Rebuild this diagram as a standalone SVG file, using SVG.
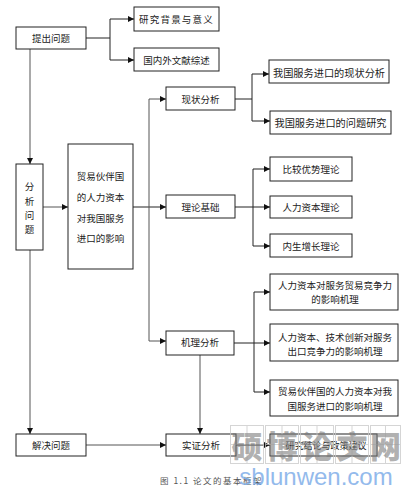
<svg xmlns="http://www.w3.org/2000/svg" width="419" height="497" viewBox="0 0 419 497">
<defs>
<marker id="arr" markerUnits="userSpaceOnUse" markerWidth="6" markerHeight="6" refX="6" refY="3" orient="auto">
<path d="M0,0 L6,3 L0,6 z" fill="#111"/>
</marker>
</defs>
<style>
.box{fill:#fff;stroke:#222;stroke-width:1}
.t{font-family:"Noto Sans CJK SC","Noto Sans",sans-serif;font-size:9.5px;fill:#222;text-anchor:middle;dominant-baseline:central}
.c{fill:none;stroke:#222;stroke-width:1}
.g{fill:none;stroke:#555;stroke-width:1}
.wm{font-family:"Noto Sans CJK SC",sans-serif;font-weight:900;font-size:31px;fill:#7a7a7a;fill-opacity:0.8;text-anchor:middle;dominant-baseline:central}
.grid{fill:none;stroke:#c8c8c8;stroke-width:1}
.cap{font-family:"Noto Sans CJK SC",sans-serif;font-size:8.5px;fill:#555;letter-spacing:1.5px}
</style>
<rect width="419" height="497" fill="#fff"/>

<g id="connectors">
<path class="c" d="M86,38 H110 V19 H134" marker-end="url(#arr)"/>
<path class="c" d="M110,38 V60 H134" marker-end="url(#arr)"/>
<path class="g" d="M30,49 V164" marker-end="url(#arr)"/>
<path class="g" d="M43,207 H68" marker-end="url(#arr)"/>
<path class="c" d="M133,207 H166" marker-end="url(#arr)"/>
<path class="g" d="M149,207 V99 H166" marker-end="url(#arr)"/>
<path class="g" d="M149,207 V341 H166" marker-end="url(#arr)"/>
<path class="c" d="M235,99 H252 V74 H269" marker-end="url(#arr)"/>
<path class="c" d="M252,99 V121 H270" marker-end="url(#arr)"/>
<path class="c" d="M235,207 H253 V169 H270" marker-end="url(#arr)"/>
<path class="c" d="M253,207 H270" marker-end="url(#arr)"/>
<path class="c" d="M253,207 V246 H270" marker-end="url(#arr)"/>
<path class="c" d="M234,343 H254 V292 H270" marker-end="url(#arr)"/>
<path class="c" d="M254,343 H270" marker-end="url(#arr)"/>
<path class="c" d="M254,343 V392 H270" marker-end="url(#arr)"/>
<path class="g" d="M30,250 V434" marker-end="url(#arr)"/>
<path class="g" d="M200,355 V434" marker-end="url(#arr)"/>
<path class="g" d="M86,445 H166" marker-end="url(#arr)"/>
<path class="c" d="M236,445 H270" marker-end="url(#arr)"/>
</g>

<g id="n-tichu"><rect class="box" x="16" y="27" width="70" height="22"/><text class="t" x="51" y="38">提出问题</text></g>
<g id="n-beijing"><rect class="box" x="134" y="7" width="85" height="24"/><text class="t" x="176.5" y="19" style="letter-spacing:1.2px">研究背景与意义</text></g>
<g id="n-wenxian"><rect class="box" x="134" y="48" width="85" height="23"/><text class="t" x="176.5" y="60">国内外文献综述</text></g>
<g id="n-fenxi"><rect class="box" x="16" y="164" width="27" height="86"/>
<text class="t" x="29.5" y="186">分</text><text class="t" x="29.5" y="201">析</text><text class="t" x="29.5" y="215">问</text><text class="t" x="29.5" y="229">题</text></g>
<g id="n-main"><rect class="box" x="68" y="144" width="65" height="125"/>
<text class="t" x="100.5" y="176">贸易伙伴国</text><text class="t" x="100.5" y="197">的人力资本</text><text class="t" x="100.5" y="218">对我国服务</text><text class="t" x="100.5" y="238">进口的影响</text></g>
<g id="n-xianzhuang"><rect class="box" x="166" y="87" width="69" height="23"/><text class="t" x="200.5" y="99">现状分析</text></g>
<g id="n-xz1"><rect class="box" x="269" y="60" width="120" height="23"/><text class="t" x="329" y="72" style="font-size:10.2px">我国服务进口的现状分析</text></g>
<g id="n-xz2"><rect class="box" x="270" y="111" width="121" height="23"/><text class="t" x="330.5" y="122" style="font-size:10.2px">我国服务进口的问题研究</text></g>
<g id="n-lilun"><rect class="box" x="166" y="195" width="69" height="23"/><text class="t" x="200.5" y="207">理论基础</text></g>
<g id="n-ll1"><rect class="box" x="270" y="157" width="82" height="24"/><text class="t" x="311" y="169">比较优势理论</text></g>
<g id="n-ll2"><rect class="box" x="270" y="196" width="82" height="22"/><text class="t" x="311" y="207">人力资本理论</text></g>
<g id="n-ll3"><rect class="box" x="270" y="234" width="82" height="23"/><text class="t" x="311" y="246">内生增长理论</text></g>
<g id="n-jili"><rect class="box" x="166" y="331" width="68" height="24"/><text class="t" x="200" y="342">机理分析</text></g>
<g id="n-jl1"><rect class="box" x="270" y="274" width="128" height="36"/><text class="t" x="335" y="285">人力资本对服务贸易竞争力</text><text class="t" x="335" y="299">的影响机理</text></g>
<g id="n-jl2"><rect class="box" x="270" y="324" width="128" height="37"/><text class="t" x="335" y="337">人力资本、技术创新对服务</text><text class="t" x="335" y="351">出口竞争力的影响机理</text></g>
<g id="n-jl3"><rect class="box" x="270" y="380" width="128" height="36"/><text class="t" x="335" y="391">贸易伙伴国的人力资本对我</text><text class="t" x="335" y="406">国服务进口的影响机理</text></g>
<g id="n-jiejue"><rect class="box" x="16" y="434" width="70" height="22"/><text class="t" x="51" y="445">解决问题</text></g>
<g id="n-shizheng"><rect class="box" x="166" y="434" width="70" height="22"/><text class="t" x="201" y="445">实证分析</text></g>
<g id="n-jielun"><rect class="box" x="270" y="434" width="107" height="22"/><text class="t" x="326" y="445" style="font-size:9px">研究结论与政策建议</text></g>

<text class="cap" x="160" y="484">图 1.1 论文的基本框架</text>

<g id="watermark" opacity="0.75">
<rect class="grid" x="230.5" y="425.5" width="33" height="38"/><path class="grid" d="M247,425.5 V463.5 M230.5,444.5 H263.5"/>
<rect class="grid" x="265.5" y="425.5" width="33" height="38"/><path class="grid" d="M282,425.5 V463.5 M265.5,444.5 H298.5"/>
<rect class="grid" x="300.5" y="425.5" width="33" height="38"/><path class="grid" d="M317,425.5 V463.5 M300.5,444.5 H333.5"/>
<rect class="grid" x="335.5" y="425.5" width="33" height="38"/><path class="grid" d="M352,425.5 V463.5 M335.5,444.5 H368.5"/>
<rect class="grid" x="370.5" y="425.5" width="30" height="38"/><path class="grid" d="M385.5,425.5 V463.5 M370.5,444.5 H400.5"/>
<text class="wm" x="247" y="444">硕</text>
<text class="wm" x="282" y="444">博</text>
<text class="wm" x="317" y="444">论</text>
<text class="wm" x="352" y="444">文</text>
<text class="wm" x="385.5" y="444">网</text>
<text x="316" y="485" style="font-family:'Liberation Sans',sans-serif;font-size:24px;fill:#6fa4e6;text-anchor:middle">sblunwen.com</text>
</g>
</svg>
